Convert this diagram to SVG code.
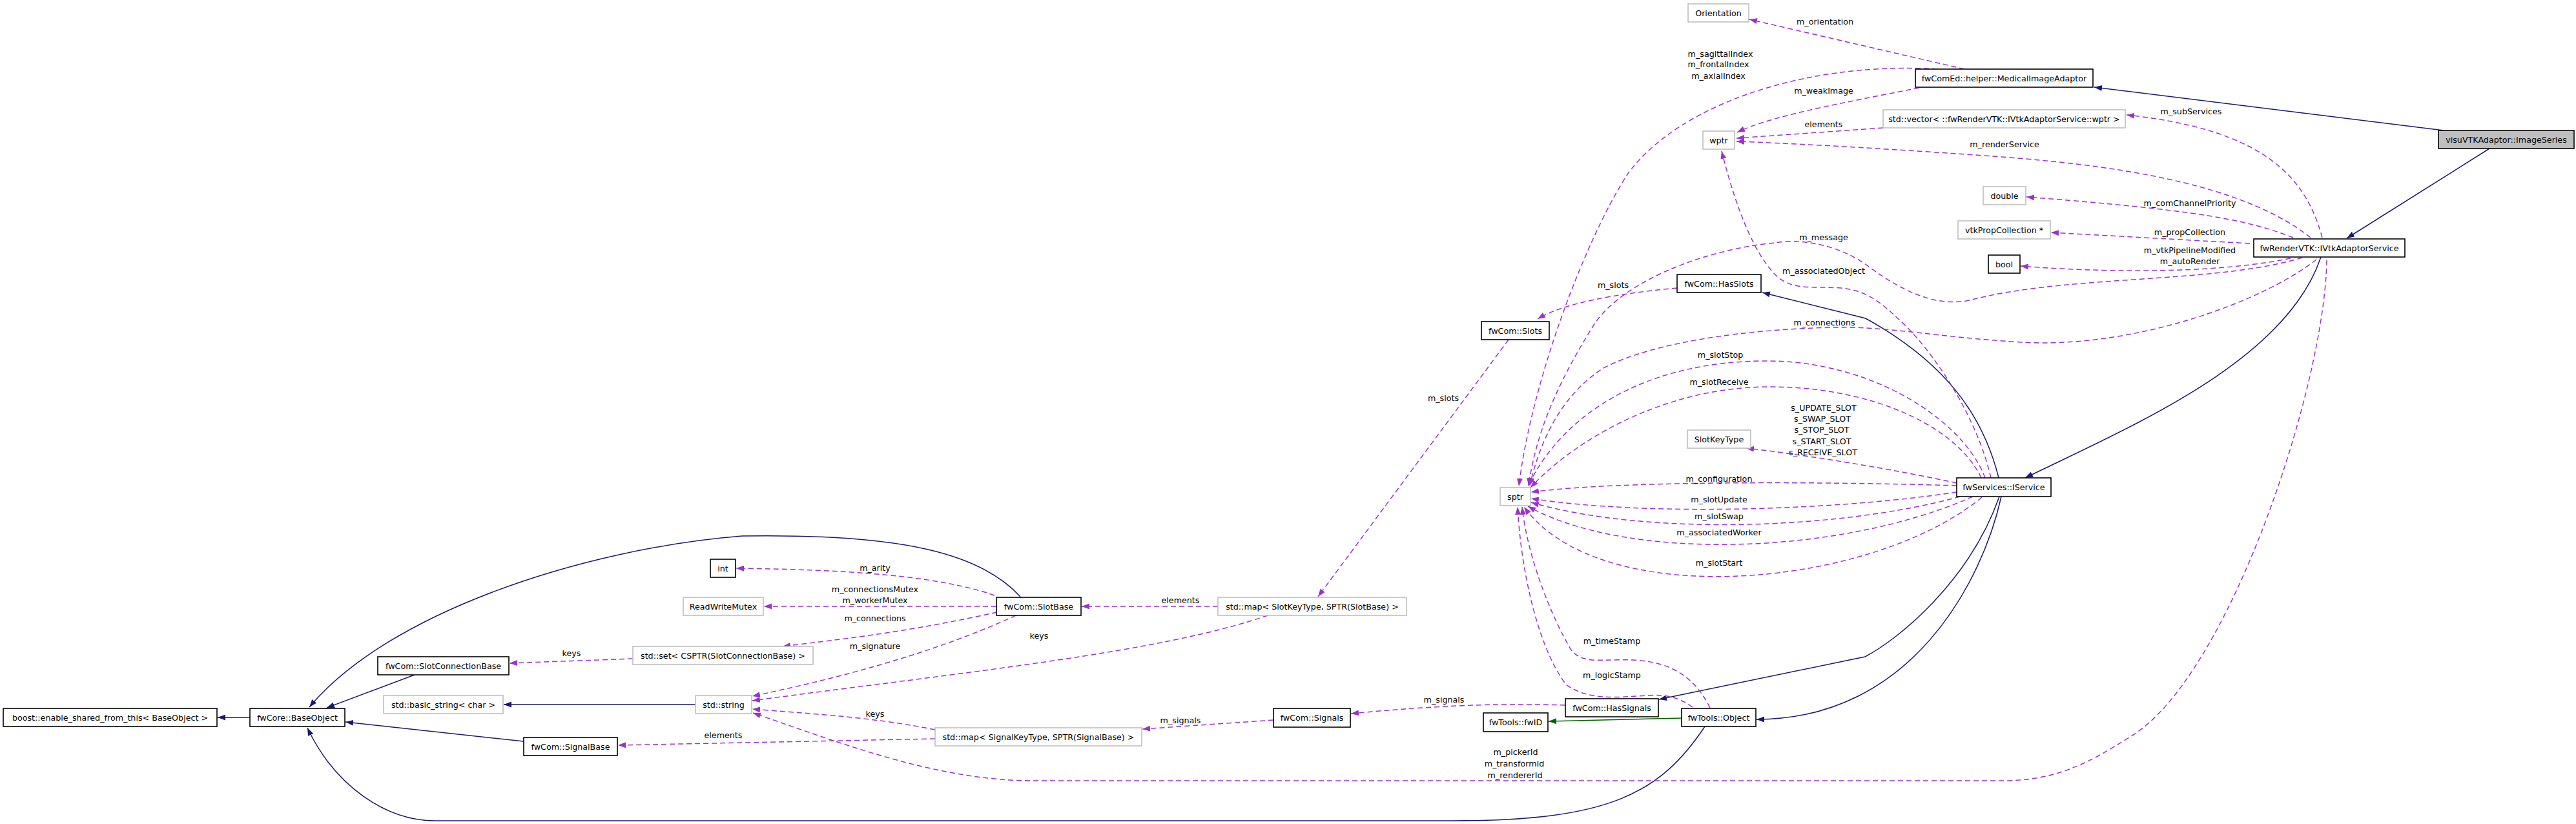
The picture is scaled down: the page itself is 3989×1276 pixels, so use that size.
<svg xmlns="http://www.w3.org/2000/svg" width="3989" height="1276" viewBox="0 0 3989 1276">
<style>
text{font-family:"DejaVu Sans","Liberation Sans",sans-serif;font-size:12.7px;fill:#000;text-anchor:middle}
.nb rect{fill:#fff;stroke:#000;stroke-width:1.6}
.ng rect{fill:#fff;stroke:#bfbfbf;stroke-width:1.6}
.hl rect{fill:#bfbfbf;stroke:#000;stroke-width:1.6}
.inh{fill:none;stroke:#191970;stroke-width:1.5;marker-end:url(#an)}
.grn{fill:none;stroke:#006400;stroke-width:1.5;marker-end:url(#ag)}
.col{fill:none;stroke:#9a32cd;stroke-width:1.5;stroke-dasharray:8,5;marker-end:url(#ap)}
</style>
<defs>
<marker id="an" markerUnits="userSpaceOnUse" markerWidth="13" markerHeight="10" refX="12" refY="4.5" orient="auto"><path d="M0,0 L12,4.5 L0,9 z" fill="#191970"/></marker>
<marker id="ag" markerUnits="userSpaceOnUse" markerWidth="13" markerHeight="10" refX="12" refY="4.5" orient="auto"><path d="M0,0 L12,4.5 L0,9 z" fill="#006400"/></marker>
<marker id="ap" markerUnits="userSpaceOnUse" markerWidth="13" markerHeight="10" refX="12" refY="4.5" orient="auto"><path d="M0,0 L12,4.5 L0,9 z" fill="#9a32cd"/></marker>
</defs>
<rect width="3989" height="1276" fill="#fff"/>
<g id="edges">
<path class="inh" d="M3784,202 L3243,135"/>
<path class="inh" d="M3855,230 L3634,369"/>
<path class="inh" d="M3594,398 C3540,560 3300,660 3136,740"/>
<path class="inh" d="M3095,740 C3070,640 3010,560 2889,493 L2729,453"/>
<path class="inh" d="M3096,769 C3050,900 2940,990 2888,1017 L2569,1083"/>
<path class="inh" d="M3099,769 C3070,900 2960,1114 2720,1114"/>
<path class="inh" d="M2640,1125 C2570,1230 2490,1271 2250,1271 L674,1271 C600,1271 520,1220 476,1127"/>
<path class="inh" d="M1580,924 C1520,858 1400,826 1149,830 C900,850 600,950 479,1095"/>
<path class="inh" d="M642,1045 L506,1096"/>
<path class="inh" d="M811,1148 L535,1118"/>
<path class="inh" d="M387,1111 L337,1111"/>
<path class="inh" d="M1077,1091 L780,1091"/>
<path class="grn" d="M2604,1112 L2398,1117"/>
<path class="col" d="M3042,107 L2709,30"/>
<path class="col" d="M3000,107 C2800,95 2600,160 2520,270 C2450,380 2370,600 2352,753"/>
<path class="col" d="M2972,136 C2850,160 2740,180 2690,205"/>
<path class="col" d="M2916,198 L2689,214"/>
<path class="col" d="M3578,368 C3480,290 3300,258 3100,243 C2950,232 2780,222 2689,219"/>
<path class="col" d="M3596,368 C3570,270 3500,200 3293,178"/>
<path class="col" d="M3551,368 C3480,340 3400,325 3138,305"/>
<path class="col" d="M3484,377 L3176,360"/>
<path class="col" d="M3547,400 C3450,420 3300,425 3129,412"/>
<path class="col" d="M3565,399 C3430,440 3200,425 3050,465 C2990,478 2930,440 2890,410 C2840,375 2780,370 2749,376 C2650,385 2520,430 2470,500 C2420,580 2380,660 2367,752"/>
<path class="col" d="M3587,402 C3500,470 3300,540 3130,530 C3000,522 2920,505 2841,507 C2700,510 2560,530 2483,570 C2420,610 2385,680 2369,752"/>
<path class="col" d="M3074,740 C3040,650 2900,560 2739,559 C2550,558 2420,640 2366,753"/>
<path class="col" d="M3068,740 C3030,660 2900,600 2744,599 C2580,598 2440,680 2370,755"/>
<path class="col" d="M3083,740 C3060,640 2990,540 2943,497 C2910,466 2890,450 2851,446 C2810,443 2780,450 2754,430 C2720,400 2690,330 2666,234"/>
<path class="col" d="M2597,446 C2500,455 2420,470 2381,494"/>
<path class="col" d="M2336,526 L2041,924"/>
<path class="col" d="M1886,939 L1675,939"/>
<path class="col" d="M1963,953 C1800,1010 1500,1040 1165,1085"/>
<path class="col" d="M1540,922 C1450,890 1300,882 1140,880"/>
<path class="col" d="M1543,939 L1183,939"/>
<path class="col" d="M1544,948 C1400,980 1300,990 1212,1001"/>
<path class="col" d="M1573,953 C1450,1010 1300,1050 1165,1078"/>
<path class="col" d="M980,1020 L789,1027"/>
<path class="col" d="M1448,1130 C1350,1110 1250,1105 1165,1098"/>
<path class="col" d="M1448,1144 L957,1154"/>
<path class="col" d="M1972,1115 L1769,1129"/>
<path class="col" d="M2424,1092 C2300,1088 2200,1095 2092,1105"/>
<path class="col" d="M3030,748 C2900,720 2760,700 2704,694"/>
<path class="col" d="M3030,752 C2800,745 2500,745 2371,762"/>
<path class="col" d="M3030,762 C2850,790 2550,800 2371,772"/>
<path class="col" d="M3035,769 C2850,820 2550,830 2371,778"/>
<path class="col" d="M3055,769 C2850,860 2520,870 2366,784"/>
<path class="col" d="M3069,770 C2900,910 2480,950 2360,785"/>
<path class="col" d="M2648,1096 C2625,1050 2590,1025 2529,1022 C2480,1020 2450,1030 2432,1005 C2400,950 2365,860 2357,785"/>
<path class="col" d="M2621,1095 C2600,1080 2580,1075 2552,1077 C2500,1080 2460,1085 2425,1060 C2380,1000 2355,880 2350,785"/>
<path class="col" d="M3603,403 C3600,600 3450,1050 3300,1140 C3230,1185 3180,1209 3100,1209 L1600,1209 C1450,1209 1300,1150 1166,1104"/>
</g>
<g id="edge-labels">
<text x="2826" y="38">m_orientation</text>
<text x="2664" y="88">m_sagittalIndex</text>
<text x="2661" y="104">m_frontalIndex</text>
<text x="2661" y="122">m_axialIndex</text>
<text x="2824" y="145">m_weakImage</text>
<text x="2824" y="197">elements</text>
<text x="3104" y="228">m_renderService</text>
<text x="3393" y="177">m_subServices</text>
<text x="3391" y="319">m_comChannelPriority</text>
<text x="3391" y="364">m_propCollection</text>
<text x="3391" y="392">m_vtkPipelineModified</text>
<text x="3391" y="409">m_autoRender</text>
<text x="2824" y="372">m_message</text>
<text x="2824" y="424">m_associatedObject</text>
<text x="2498" y="446">m_slots</text>
<text x="2825" y="504">m_connections</text>
<text x="2664" y="554">m_slotStop</text>
<text x="2662" y="596">m_slotReceive</text>
<text x="2824" y="636">s_UPDATE_SLOT</text>
<text x="2822" y="653">s_SWAP_SLOT</text>
<text x="2821" y="670">s_STOP_SLOT</text>
<text x="2821" y="688">s_START_SLOT</text>
<text x="2823" y="705">s_RECEIVE_SLOT</text>
<text x="2662" y="746">m_configuration</text>
<text x="2662" y="778">m_slotUpdate</text>
<text x="2662" y="804">m_slotSwap</text>
<text x="2662" y="829">m_associatedWorker</text>
<text x="2662" y="876">m_slotStart</text>
<text x="2496" y="997">m_timeStamp</text>
<text x="2496" y="1050">m_logicStamp</text>
<text x="2236" y="1088">m_signals</text>
<text x="2347" y="1169">m_pickerId</text>
<text x="2345" y="1187">m_transformId</text>
<text x="2346" y="1205">m_rendererId</text>
<text x="2235" y="621">m_slots</text>
<text x="1828" y="934">elements</text>
<text x="1609" y="989">keys</text>
<text x="1355" y="884">m_arity</text>
<text x="1355" y="917">m_connectionsMutex</text>
<text x="1355" y="934">m_workerMutex</text>
<text x="1355" y="962">m_connections</text>
<text x="1355" y="1005">m_signature</text>
<text x="885" y="1016">keys</text>
<text x="1355" y="1110">keys</text>
<text x="1120" y="1143">elements</text>
<text x="1828" y="1120">m_signals</text>
</g>
<g id="node-imageseries" class="hl"><rect x="3776" y="202" width="210" height="28"/><text x="3881" y="220.5">visuVTKAdaptor::ImageSeries</text></g>
<g id="node-medicalimageadaptor" class="nb"><rect x="2966" y="107" width="275" height="28"/><text x="3103.5" y="125.5">fwComEd::helper::MedicalImageAdaptor</text></g>
<g id="node-ivtkadaptorservice" class="nb"><rect x="3490" y="370" width="234" height="28"/><text x="3607" y="388.5">fwRenderVTK::IVtkAdaptorService</text></g>
<g id="node-orientation" class="ng"><rect x="2614" y="6" width="94" height="28"/><text x="2661" y="24.5">Orientation</text></g>
<g id="node-vector" class="ng"><rect x="2916" y="170" width="375" height="28"/><text x="3103.5" y="188.5">std::vector&lt; ::fwRenderVTK::IVtkAdaptorService::wptr &gt;</text></g>
<g id="node-wptr" class="ng"><rect x="2637" y="203" width="49" height="28"/><text x="2661.5" y="221.5">wptr</text></g>
<g id="node-double" class="ng"><rect x="3071" y="289" width="66" height="28"/><text x="3104" y="307.5">double</text></g>
<g id="node-vtkpropcollection" class="ng"><rect x="3032" y="342" width="143" height="28"/><text x="3103.5" y="360.5">vtkPropCollection *</text></g>
<g id="node-bool" class="nb"><rect x="3079" y="395" width="49" height="28"/><text x="3103.5" y="413.5">bool</text></g>
<g id="node-hasslots" class="nb"><rect x="2597" y="425" width="130" height="28"/><text x="2662" y="443.5">fwCom::HasSlots</text></g>
<g id="node-slots" class="nb"><rect x="2294" y="498" width="105" height="28"/><text x="2346.5" y="516.5">fwCom::Slots</text></g>
<g id="node-slotkeytype" class="ng"><rect x="2613" y="666" width="98" height="28"/><text x="2662" y="684.5">SlotKeyType</text></g>
<g id="node-iservice" class="nb"><rect x="3030" y="740" width="146" height="29"/><text x="3103" y="759">fwServices::IService</text></g>
<g id="node-sptr" class="ng"><rect x="2323" y="755" width="47" height="28"/><text x="2346.5" y="773.5">sptr</text></g>
<g id="node-hassignals" class="nb"><rect x="2424" y="1082" width="144" height="28"/><text x="2496" y="1100.5">fwCom::HasSignals</text></g>
<g id="node-fwid" class="nb"><rect x="2297" y="1104" width="100" height="29"/><text x="2347" y="1123">fwTools::fwID</text></g>
<g id="node-object" class="nb"><rect x="2604" y="1097" width="115" height="28"/><text x="2661.5" y="1115.5">fwTools::Object</text></g>
<g id="node-signals" class="nb"><rect x="1972" y="1097" width="119" height="29"/><text x="2031.5" y="1116">fwCom::Signals</text></g>
<g id="node-signalmap" class="ng"><rect x="1448" y="1127" width="320" height="28"/><text x="1608" y="1145.5">std::map&lt; SignalKeyType, SPTR(SignalBase) &gt;</text></g>
<g id="node-slotmap" class="ng"><rect x="1886" y="925" width="292" height="28"/><text x="2032" y="943.5">std::map&lt; SlotKeyType, SPTR(SlotBase) &gt;</text></g>
<g id="node-slotbase" class="nb"><rect x="1543" y="925" width="131" height="28"/><text x="1608.5" y="943.5">fwCom::SlotBase</text></g>
<g id="node-int" class="nb"><rect x="1100" y="866" width="39" height="28"/><text x="1119.5" y="884.5">int</text></g>
<g id="node-readwritemutex" class="ng"><rect x="1058" y="925" width="124" height="28"/><text x="1120" y="943.5">ReadWriteMutex</text></g>
<g id="node-set" class="ng"><rect x="980" y="1001" width="279" height="28"/><text x="1119.5" y="1019.5">std::set&lt; CSPTR(SlotConnectionBase) &gt;</text></g>
<g id="node-string" class="ng"><rect x="1077" y="1077" width="87" height="28"/><text x="1120.5" y="1095.5">std::string</text></g>
<g id="node-basicstring" class="ng"><rect x="594" y="1077" width="185" height="28"/><text x="686.5" y="1095.5">std::basic_string&lt; char &gt;</text></g>
<g id="node-slotconnectionbase" class="nb"><rect x="585" y="1017" width="203" height="28"/><text x="686.5" y="1035.5">fwCom::SlotConnectionBase</text></g>
<g id="node-signalbase" class="nb"><rect x="811" y="1142" width="145" height="28"/><text x="883.5" y="1160.5">fwCom::SignalBase</text></g>
<g id="node-baseobject" class="nb"><rect x="387" y="1097" width="147" height="28"/><text x="460.5" y="1115.5">fwCore::BaseObject</text></g>
<g id="node-enableshared" class="nb"><rect x="5" y="1097" width="331" height="28"/><text x="170.5" y="1115.5">boost::enable_shared_from_this&lt; BaseObject &gt;</text></g>
</svg>
